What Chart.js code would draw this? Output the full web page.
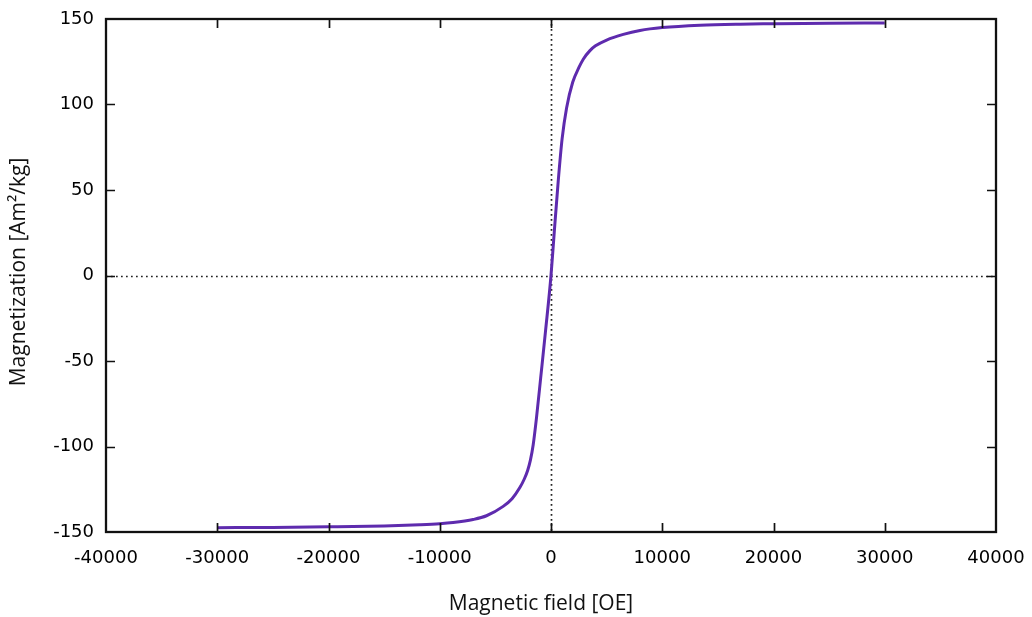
<!DOCTYPE html>
<html>
<head>
<meta charset="utf-8">
<script src="https://cdn.jsdelivr.net/npm/chart.js@4/dist/chart.umd.min.js"></script>
<style>
html,body{margin:0;padding:0;background:#fff;}
#wrap{width:1032px;height:617px;}
</style>
</head>
<body>
<div id="wrap"><canvas id="c" width="1032" height="617"></canvas></div>
<script>
// Data
const fieldOe = [-30000,-25000,-20000,-15000,-11800,-10000,-8800,-7000,-5800,-4300,-3500,-2800,-2400,-2100,-1850,-1600,-1300,-930,-500,0,300,660,1000,1400,1950,2500,2900,3500,4000,5000,6500,8000,10000,13400,17000,20000,25000,30000];
const magnetization = [-147.5,-147.3,-147,-146.5,-145.8,-145.2,-144.5,-142.7,-140.5,-135,-130.5,-124,-119,-114,-108,-99,-83,-60,-33,0,26,56,80,98,113,121.5,126.5,131.5,134.3,137.7,141,143.3,145,146.4,147,147.2,147.5,147.7];
const xTicks = [-40000,-30000,-20000,-10000,0,10000,20000,30000,40000];
const xTickLabels = ['-40000','-30000','-20000','-10000','0','10000','20000','30000','40000'];
const yTicks = [-150,-100,-50,0,50,100,150];
const yTickLabels = ['-150','-100','-50','0','50','100','150'];
const xTitle = 'Magnetic field [OE]';
const yTitle = 'Magnetization [Am\u00B2/kg]';

const points = fieldOe.map((x,i)=>({x:x,y:magnetization[i]}));

const framePlugin = {
  id:'frame',
  beforeDatasetsDraw(chart){
    const {ctx, chartArea:a, scales:{x,y}} = chart;
    ctx.save();
    ctx.strokeStyle = '#222';
    ctx.lineWidth = 1.7;
    ctx.setLineDash([1.7,3.3]);
    const x0 = Math.round(x.getPixelForValue(0))+0.5;
    const y0 = Math.round(y.getPixelForValue(0))+0.5;
    ctx.beginPath();
    ctx.moveTo(a.left, y0); ctx.lineTo(a.right, y0);
    ctx.moveTo(x0, a.top); ctx.lineTo(x0, a.bottom);
    ctx.stroke();
    ctx.restore();
  },
  afterDatasetsDraw(chart){
    const {ctx, chartArea:a, scales:{x,y}} = chart;
    ctx.save();
    ctx.strokeStyle = '#111';
    ctx.lineWidth = 1.7;
    const L = 9;
    ctx.beginPath();
    xTicks.forEach(v=>{
      if (v===x.min || v===x.max) return;
      const px = Math.round(x.getPixelForValue(v))+0.5;
      ctx.moveTo(px, a.bottom); ctx.lineTo(px, a.bottom-L);
      ctx.moveTo(px, a.top); ctx.lineTo(px, a.top+L);
    });
    yTicks.forEach(v=>{
      if (v===y.min || v===y.max) return;
      const py = Math.round(y.getPixelForValue(v))+0.5;
      ctx.moveTo(a.left, py); ctx.lineTo(a.left+L, py);
      ctx.moveTo(a.right, py); ctx.lineTo(a.right-L, py);
    });
    ctx.stroke();
    ctx.lineWidth = 2.3;
    ctx.strokeRect(a.left, a.top, a.right-a.left, a.bottom-a.top);
    // axis titles
    ctx.fillStyle = '#111';
    ctx.font = '21px "Open Sans"';
    ctx.textAlign = 'center';
    ctx.textBaseline = 'middle';
    ctx.fillText(xTitle, 541, 604);
    ctx.translate(19, 272);
    ctx.rotate(-Math.PI/2);
    ctx.fillText(yTitle, 0, 0);
    ctx.restore();
  }
};

function noPad(s){ s.paddingLeft = 0; s.paddingRight = 0; s.paddingTop = 0; s.paddingBottom = 0; }

new Chart(document.getElementById('c'), {
  type:'line',
  data:{datasets:[{
    data: points,
    borderColor:'#5e2bae',
    borderWidth:3,
    pointRadius:0,
    fill:false,
    cubicInterpolationMode:'monotone'
  }]},
  options:{
    responsive:false,
    animation:false,
    devicePixelRatio:1,
    layout:{padding:{left:0,right:36,top:19,bottom:0}},
    plugins:{legend:{display:false},tooltip:{enabled:false}},
    scales:{
      x:{
        type:'linear', min:-40000, max:40000,
        afterBuildTicks(s){ s.ticks = xTicks.map(v=>({value:v})); },
        afterFit(s){ s.height = 85; noPad(s); },
        grid:{display:false, drawTicks:false},
        border:{display:false},
        ticks:{
          padding:16, color:'#000', maxRotation:0, autoSkip:false,
          font:{family:'DejaVu Sans', size:18},
          callback(v){ const i = xTicks.indexOf(v); return i>=0 ? xTickLabels[i] : ''; }
        }
      },
      y:{
        type:'linear', min:-150, max:150,
        afterBuildTicks(s){ s.ticks = yTicks.map(v=>({value:v})); },
        afterFit(s){ s.width = 106; noPad(s); },
        grid:{display:false, drawTicks:false},
        border:{display:false},
        ticks:{
          padding:12, color:'#000', autoSkip:false,
          font:{family:'DejaVu Sans', size:18},
          callback(v){ const i = yTicks.indexOf(v); return i>=0 ? yTickLabels[i] : ''; }
        }
      }
    }
  },
  plugins:[framePlugin]
});
</script>
</body>
</html>
